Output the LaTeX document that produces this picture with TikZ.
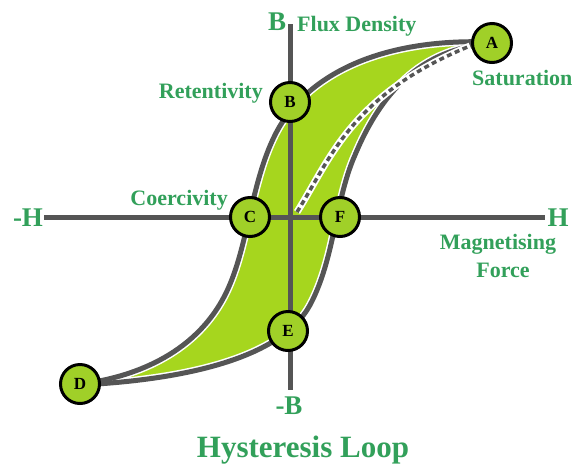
\documentclass[tikz,border=0pt]{standalone}
\usepackage{fontspec}
\setmainfont{Liberation Serif}
\definecolor{loopgreen}{RGB}{166,214,30}
\definecolor{circgreen}{RGB}{160,208,40}
\definecolor{txtgreen}{RGB}{50,160,90}
\definecolor{linegray}{RGB}{85,85,85}
\begin{document}
\begin{tikzpicture}[x=1pt,y=-1pt,
  lbl/.style={text=txtgreen, font=\bfseries\fontsize{22}{24}\selectfont, inner sep=0pt},
  axlbl/.style={text=txtgreen, font=\bfseries\fontsize{27}{28}\selectfont, inner sep=0pt},
  ptnode/.style={circle, draw=black, line width=3pt, fill=circgreen, minimum size=39pt, inner sep=0pt, font=\bfseries\fontsize{17}{18}\selectfont},
  axisline/.style={draw=linegray, line width=5pt},
  halo/.style={draw=white, line width=8pt},
  curveline/.style={draw=linegray, line width=5pt}]
\useasboundingbox (0,0) rectangle (575,467);
% fill of loop
\fill[loopgreen] (490,42) .. controls (380,38) and (305,75) .. (275,135)
  .. controls (250,185) and (248,250) .. (225,295)
  .. controls (194,356) and (130,378) .. (80,384)
  -- (80,385) .. controls (180,380) and (280,360) .. (310,305)
  .. controls (335,258) and (335,200) .. (355,155)
  .. controls (380,95) and (420,48) .. (490,44) -- cycle;
% axes
\coordinate (vt) at (290,24);
\coordinate (vb) at (290,390);
\coordinate (hl) at (44,217);
\coordinate (hr) at (545,217);
\draw[axisline] (vt) -- (vb);
\draw[axisline] (hl) -- (hr);
% curves
\foreach \st in {halo,curveline}{
\draw[\st] (490,42) .. controls (380,38) and (305,75) .. (275,135)
  .. controls (250,185) and (248,250) .. (225,295)
  .. controls (194,356) and (130,378) .. (80,384);
\draw[\st] (80,385) .. controls (180,380) and (280,360) .. (310,305)
  .. controls (335,258) and (335,200) .. (355,155)
  .. controls (380,95) and (420,48) .. (490,44);
}
% initial magnetisation (dashed)
\draw[draw=white, line width=7pt] (297,212) .. controls (330,160) and (350,95) .. (470,46);
\draw[draw=linegray, line width=3.5pt, dash pattern=on 5pt off 3.5pt] (297,212) .. controls (330,160) and (350,95) .. (470,46);
% points
\node[ptnode] (A) at (492,43) {A};
\node[ptnode] (B) at (290,102) {B};
\node[ptnode] (C) at (250,217) {C};
\node[ptnode] (F) at (340,217) {F};
\node[ptnode] (E) at (288,331) {E};
\node[ptnode] (D) at (80,384) {D};
% labels
\node[axlbl] (Bl) at (277,22) {B};
\node[lbl, anchor=west] (flux) at (297,26) {Flux Density};
\node[lbl, anchor=west] (sat) at (472,78) {Saturation};
\node[lbl, anchor=east] (ret) at (263,93) {Retentivity};
\node[lbl, anchor=east] (coe) at (228,200) {Coercivity};
\node[axlbl] (mH) at (28,218) {-H};
\node[axlbl] (H) at (558,218) {H};
\node[lbl] (mag) at (498,244) {Magnetising};
\node[lbl] (force) at (503,270) {Force};
\node[axlbl] (mB) at (289,406) {-B};
\node[text=txtgreen, font=\bfseries\fontsize{31}{33}\selectfont, inner sep=0pt] (title) at (303,450) {Hysteresis Loop};
\end{tikzpicture}
\end{document}
